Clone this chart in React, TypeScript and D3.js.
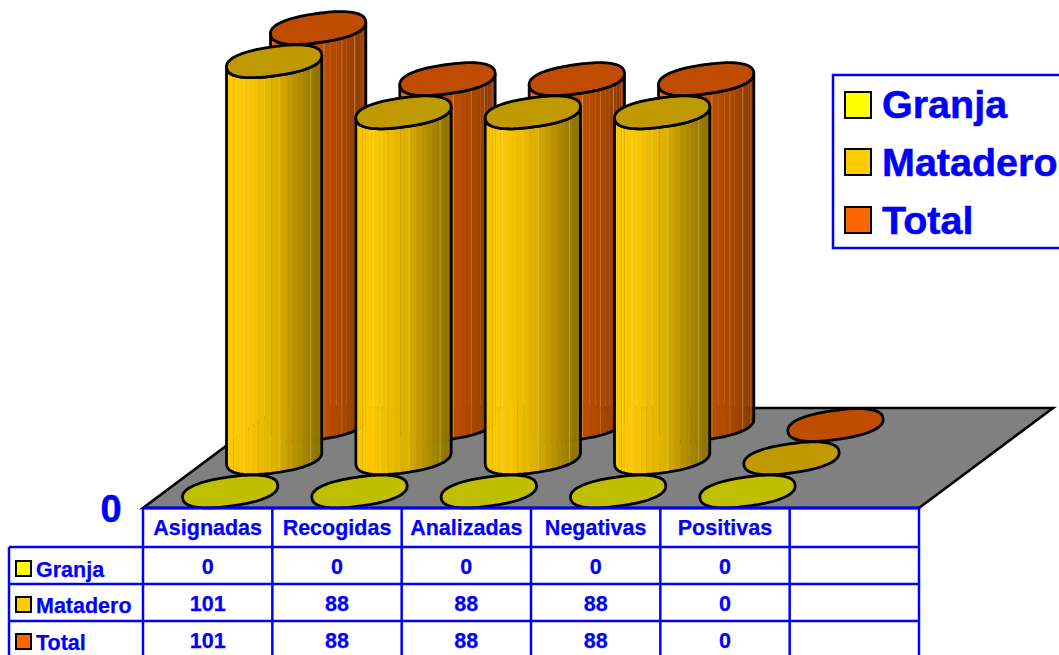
import React from "react";
import { scaleBand, scalePoint, scaleLinear, line, curveLinearClosed, range, piecewise, interpolateRgb, greatest } from "d3";

const categories = ["Asignadas", "Recogidas", "Analizadas", "Negativas", "Positivas"];
const series = ["Granja", "Matadero", "Total"];
const granja = [0, 0, 0, 0, 0];
const matadero = [101, 88, 88, 88, 0];
const total = [101, 88, 88, 88, 0];
const seriesValues = [granja, matadero, total];

const swatchColors = ["#FFFF00", "#FFCC00", "#FF6600"];
const topColors = ["#BFBF00", "#BF9900", "#BF4C00"];
const bodyRamps = [
  ["#FFFF00", "#8A8A00"],
  ["#FFCC00", "#F7C500", "#DFB300", "#B28E00", "#857000"],
  ["#FF6600", "#C85200", "#C05000", "#AD4700", "#873800"],
];

const width = 1059;
const height = 655;
const blue = "#0000FF";
const font = "'Liberation Sans', Arial, sans-serif";

// table / floor frame
const tableLeft = 143;
const tableRight = 919;
const floorFront = 508;
const floorBack = 408;
const floorShift = 134;
const rowLines = [547, 584, 621];

const x = scaleBand<string>()
  .domain([...categories, ""])
  .range([tableLeft, tableRight]);
const depthX = scalePoint<string>().domain(series).range([22.5, 110.5]);
const depthY = scalePoint<string>().domain(series).range([491.5, 425]);
const h = scaleLinear().domain([0, 101]).range([0, 397]);

// cylinder cross-section: a tilted oval, slightly blunter than a true ellipse
const major = 48;
const minor = 14.5;
const tilt = (8 * Math.PI) / 180;
const squareness = 0.85;
const soft = (v: number) => Math.sign(v) * Math.pow(Math.abs(v), squareness);

const ringPoint = (cx: number, cy: number, t: number): [number, number] => {
  const u = major * soft(Math.cos(t));
  const v = minor * soft(Math.sin(t));
  return [cx + u * Math.cos(tilt) - v * Math.sin(tilt), cy - u * Math.sin(tilt) - v * Math.cos(tilt)];
};

// angle of the rightmost point, where the cylinder's side edge starts
const tangent = greatest(
  range(-60, 60).map((d) => (d * Math.PI) / 180),
  (t) => ringPoint(0, 0, t)[0]
) as number;
const halfWidth = ringPoint(0, 0, tangent)[0];

const closed = line().curve(curveLinearClosed);
const open = line();

const ellipsePath = (cx: number, cy: number) =>
  closed(range(96).map((i) => ringPoint(cx, cy, (i / 96) * 2 * Math.PI)));

const frontAngles = (n: number) => range(n + 1).map((i) => tangent - (i / n) * Math.PI);

const FACETS = 26;
const OUTLINE = 2.8;

const Cylinder = ({ cx, cy, value, s }: { cx: number; cy: number; value: number; s: number }) => {
  const topY = cy - h(value);
  if (value === 0) {
    return <path d={ellipsePath(cx, cy) as string} fill={topColors[s]} stroke="#000" strokeWidth={OUTLINE} />;
  }
  const angles = frontAngles(FACETS);
  const ramp = piecewise(interpolateRgb, bodyRamps[s]);
  const outline = [
    ...angles.map((t) => ringPoint(cx, topY, t)),
    ...[...angles].reverse().map((t) => ringPoint(cx, cy, t)),
  ];
  return (
    <g>
      {range(FACETS).map((i) => {
        const a = ringPoint(cx, topY, angles[i]);
        const b = ringPoint(cx, topY, angles[i + 1]);
        const c = ringPoint(cx, cy, angles[i + 1]);
        const d = ringPoint(cx, cy, angles[i]);
        const mid = (a[0] + b[0]) / 2;
        const fill = ramp((mid - (cx - halfWidth)) / (2 * halfWidth));
        return (
          <g key={i}>
            <path d={closed([a, b, c, d]) as string} fill={fill} stroke={fill} strokeWidth={0.4} />
            {i % 3 === 0 && (
              <path
                d={open([a, d]) as string}
                stroke={i % 6 === 0 ? "#FFE9A0" : s === 2 ? "#FF9A50" : "#D08A10"}
                strokeOpacity={0.4}
                strokeWidth={0.8}
              />
            )}
          </g>
        );
      })}
      <path d={closed(outline) as string} fill="none" stroke="#000" strokeWidth={OUTLINE} strokeLinejoin="round" />
      <path d={ellipsePath(cx, topY) as string} fill={topColors[s]} stroke="#000" strokeWidth={OUTLINE} />
    </g>
  );
};

const rowSwatchY = [561, 597, 634];
const rowLabelY = [577, 613, 650];
const rowValueY = [574, 611, 648];
const legendSwatchY = [92, 149, 207];
const legendLabelY = [118, 176, 234];

export default function App() {
  const edges = [...x.domain().map((c) => x(c) as number), tableRight];
  const center = (c: string) => (x(c) as number) + x.bandwidth() / 2;
  return (
    <svg
      width={width}
      height={height}
      style={{ position: "absolute", left: 0, top: 0, display: "block", background: "#fff" }}
      fontFamily={font}
      fontWeight="bold"
    >
      <path
        d={
          closed([
            [tableLeft, floorFront],
            [tableRight, floorFront],
            [tableRight + floorShift, floorBack],
            [tableLeft + floorShift, floorBack],
          ]) as string
        }
        fill="#808080"
        stroke="#000"
        strokeWidth={2.6}
      />

      {/* back row first so nearer cylinders cover it */}
      {[2, 1, 0].map((s) =>
        categories.map((c, i) => (
          <Cylinder
            key={`${s}-${c}`}
            s={s}
            value={seriesValues[s][i]}
            cx={center(c) + (depthX(series[s]) as number)}
            cy={depthY(series[s]) as number}
          />
        ))
      )}

      <text x={111} y={522} fontSize={38} fill={blue} stroke={blue} strokeWidth={0.5} textAnchor="middle">
        0
      </text>

      {/* data table */}
      <g stroke={blue} strokeWidth={2.5}>
        <line x1={tableLeft} x2={tableRight} y1={floorFront} y2={floorFront} strokeWidth={3} />
        {rowLines.map((y) => (
          <line key={y} x1={9} x2={tableRight} y1={y} y2={y} />
        ))}
        <line x1={9} x2={9} y1={rowLines[0]} y2={height + 2} />
        {edges.map((e) => (
          <line key={e} x1={e} x2={e} y1={floorFront} y2={height + 2} />
        ))}
      </g>
      <g fontSize={21.5} fill={blue} stroke={blue} strokeWidth={0.25} textAnchor="middle">
        {categories.map((c) => (
          <text key={c} x={center(c)} y={535}>
            {c}
          </text>
        ))}
        {series.map((name, s) =>
          categories.map((c, i) => (
            <text key={name + c} x={center(c)} y={rowValueY[s]}>
              {seriesValues[s][i]}
            </text>
          ))
        )}
      </g>
      {series.map((name, s) => (
        <g key={name}>
          <rect x={16} y={rowSwatchY[s]} width={15} height={15} fill={swatchColors[s]} stroke="#000" strokeWidth={2} />
          <text x={36} y={rowLabelY[s]} fontSize={21.5} fill={blue} stroke={blue} strokeWidth={0.25}>
            {name}
          </text>
        </g>
      ))}

      {/* legend, runs off the right edge */}
      <rect x={833} y={75} width={300} height={173} fill="#fff" stroke={blue} strokeWidth={2.5} />
      {series.map((name, s) => (
        <g key={name}>
          <rect x={845} y={legendSwatchY[s]} width={26} height={26} fill={swatchColors[s]} stroke="#000" strokeWidth={2} />
          <text x={882} y={legendLabelY[s]} fontSize={39.5} fill={blue} stroke={blue} strokeWidth={0.5}>
            {name}
          </text>
        </g>
      ))}
    </svg>
  );
}
